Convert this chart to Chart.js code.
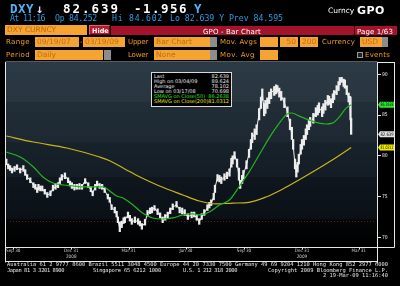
<!DOCTYPE html>
<html>
<head>
<meta charset="utf-8">
<title>DXY Curncy GPO</title>
<script src="https://cdn.jsdelivr.net/npm/chart.js@4.4.1/dist/chart.umd.min.js"></script>
<style>
  html, body { margin: 0; padding: 0; background: #000; }
  #wrap { position: relative; width: 400px; height: 286px; overflow: hidden; background: #000; }
  #chart { position: absolute; left: 0; top: 0; }
  .t { position: absolute; white-space: pre; line-height: 1; }
  .mono { font-family: 'DejaVu Sans Mono', monospace; }
  .lbl { position: absolute; white-space: pre; color: #f39a22; font: 7px 'DejaVu Sans', sans-serif; line-height: 10px; height: 10px; }
  .ob { position: absolute; white-space: pre; background: #f6a431; color: #c06e0c; font: 7.5px 'DejaVu Sans', sans-serif; line-height: 10px; height: 10px; box-sizing: border-box; padding: 0 2px; overflow: hidden; }
  .gs { position: absolute; background: #8c8c8c; height: 10px; }
  .foot { position: absolute; white-space: pre; color: #e4e4e4; font: 5.4px 'DejaVu Sans Mono', monospace; line-height: 1; }
  #legend { position: absolute; left: 151px; top: 72px; width: 79px; height: 32px; padding-top: 1px; box-sizing: content-box; background: #000; border: 1px solid #d8d8d8; font: 5px 'DejaVu Sans', sans-serif; color: #e8e8e8; }
  #legend div { position: relative; height: 5px; line-height: 5px; padding: 0 2px; white-space: pre; }
  #legend span { position: absolute; right: 2px; top: 0; }
</style>
</head>
<body>
<div id="wrap">
  <canvas id="chart" width="400" height="286"></canvas>

  <!-- top quote lines -->
  <div class="t mono" data-w="24" style="left:10px;top:2.5px;font-size:12.5px;font-weight:bold;color:#52b4f4">DXY</div>
  <div class="t mono" style="left:36px;top:2.5px;font-size:12px;font-weight:bold;color:#cfe2ff">↓</div>
  <div class="t mono" data-w="57" style="left:63px;top:2.5px;font-size:12.5px;font-weight:bold;color:#ffffff">82.639</div>
  <div class="t mono" data-w="54" style="left:134px;top:2.5px;font-size:12.5px;font-weight:bold;color:#ffffff">-1.956</div>
  <div class="t mono" style="left:194px;top:2.5px;font-size:12.5px;font-weight:bold;color:#52b4f4">Y</div>
  <div class="t" style="left:328px;top:6px;font:7.5px 'DejaVu Sans',sans-serif;color:#ffffff">Curncy</div>
  <div class="t" data-w="28" style="left:357px;top:3.5px;font:bold 11px 'DejaVu Sans',sans-serif;color:#ffffff">GPO</div>

  <div class="t mono" data-w="35" style="left:10px;top:14px;font-size:8.2px;color:#2f9be0">At 11:16</div>
  <div class="t mono" data-w="42" style="left:55px;top:14px;font-size:8.2px;color:#2f9be0">Op 84.252</div>
  <div class="t mono" data-w="51" style="left:112px;top:14px;font-size:8.2px;color:#2f9be0">Hi 84.602</div>
  <div class="t mono" data-w="113" style="left:170px;top:14px;font-size:8.2px;color:#2f9be0">Lo 82.639 Y Prev 84.595</div>

  <!-- security / title bar -->
  <div class="ob" style="left:5px;top:25px;width:82px;color:#b8680c">DXY CURNCY</div>
  <div style="position:absolute;left:89px;top:25px;width:21px;height:10px;box-sizing:border-box;background:#b8182c;border:1px solid #e4606c;border-right-color:#6a0810;border-bottom-color:#6a0810;"></div>
  <div class="t" style="left:92px;top:26.5px;font:bold 6.5px 'DejaVu Sans',sans-serif;color:#fff">Hide</div>
  <div style="position:absolute;left:111px;top:26px;width:286px;height:9px;background:#a3142b;"></div>
  <div style="position:absolute;left:354px;top:26px;width:1px;height:9px;background:#3a0008;"></div>
  <div class="t" data-w="58" style="left:203px;top:27.5px;font:7px 'DejaVu Sans',sans-serif;color:#fff">GPO - Bar Chart</div>
  <div class="t" data-w="36" style="left:357px;top:27.5px;font:7px 'DejaVu Sans',sans-serif;color:#fff">Page 1/63</div>

  <!-- control row 1 -->
  <div class="lbl" data-w="24" style="left:6px;top:37px">Range</div>
  <div class="ob" style="left:35px;top:37px;width:44px">09/19/07</div>
  <div class="lbl" style="left:80px;top:37px">-</div>
  <div class="ob" style="left:83px;top:37px;width:42px">03/19/09</div>
  <div class="lbl" data-w="20" style="left:128px;top:37px">Upper</div>
  <div class="ob" style="left:154px;top:37px;width:56px">Bar Chart</div>
  <div class="gs" style="left:210px;top:37px;width:7px"></div>
  <div class="lbl" data-w="37" style="left:220px;top:37px">Mov. Avgs</div>
  <div class="ob" style="left:260px;top:37px;width:18px"></div>
  <div class="ob" style="left:280px;top:37px;width:18px;text-align:right">50</div>
  <div class="ob" style="left:300px;top:37px;width:18px;text-align:right">200</div>
  <div class="lbl" data-w="33" style="left:322px;top:37px">Currency</div>
  <div class="ob" style="left:360px;top:37px;width:22px">USD</div>
  <div class="gs" style="left:382px;top:37px;width:6px"></div>

  <!-- control row 2 -->
  <div class="lbl" data-w="24" style="left:6px;top:49.5px">Period</div>
  <div class="ob" style="left:35px;top:49.5px;width:68px">Daily</div>
  <div class="gs" style="left:104px;top:49.5px;width:7px"></div>
  <div class="lbl" data-w="20" style="left:128px;top:49.5px">Lower</div>
  <div class="ob" style="left:154px;top:49.5px;width:56px">None</div>
  <div class="gs" style="left:210px;top:49.5px;width:7px"></div>
  <div class="lbl" data-w="35" style="left:220px;top:49.5px">Mov. Avg</div>
  <div class="ob" style="left:260px;top:49.5px;width:18px"></div>
  <div style="position:absolute;left:357px;top:52px;width:6px;height:6px;box-sizing:border-box;border:1px solid #9a9a9a;background:#202020;"></div>
  <div class="lbl" data-w="25" style="left:365px;top:49.5px">Events</div>

  <!-- statistics box -->
  <div id="legend">
    <div>Last<span>82.639</span></div>
    <div>High on 03/04/09<span>89.624</span></div>
    <div>Average<span>78.102</span></div>
    <div>Low on 03/17/08<span>70.698</span></div>
    <div style="color:#2ee02e">SMAVG on Close(50)<span>86.2638</span></div>
    <div style="color:#e8e800">SMAVG on Close(200)<span>81.0312</span></div>
  </div>

  <!-- footer -->
  <div class="foot" data-w="381" style="left:7px;top:261.5px">Australia 61 2 9777 8600 Brazil 5511 3048 4500 Europe 44 20 7330 7500 Germany 49 69 9204 1210 Hong Kong 852 2977 6000</div>
  <div class="foot" data-w="57" style="left:7px;top:267.5px">Japan 81 3 3201 8900</div>
  <div class="foot" data-w="68" style="left:93px;top:267.5px">Singapore 65 6212 1000</div>
  <div class="foot" data-w="54" style="left:183px;top:267.5px">U.S. 1 212 318 2000</div>
  <div class="foot" data-w="120" style="left:268px;top:267.5px">Copyright 2009 Bloomberg Finance L.P.</div>
  <div class="foot" data-w="65" style="left:323px;top:272.5px">2 19-Mar-09 11:16:40</div>
</div>

<script>
// days counted from 19 Sep 2007
const days = [0,3,6,9,13,17,22,27,30,33,38,43,46,49,51,54,57,61,65,70,
  74,78,82,85,88,93,98,101,104,108,112,116,120,125,130,134,137,141,144,148,
  152,156,161,164,167,172,175,177,180,183,186,188,193,196,199,204,209,212,215,220,
  224,228,231,235,240,244,248,252,256,260,264,270,275,279,283,288,294,298,302,306,
  310,314,319,322,325,329,331,335,338,341,346,350,354,357,359,362,366,369,371,374,
  376,381,385,388,390,394,397,401,404,406,409,411,414,417,420,425,428,430,433,436,
  441,446,450,453,455,458,460,462,464,467,469,472,475,477,480,482,487,491,494,496,
  501,503,506,510,512,515,518,520,524,527,529,532,535,537,540,543,545,546,547];

const lows = [78.9,78.4,78.2,77.9,78.1,78.3,77.9,78.1,77.6,77.1,76.7,76.1,75.9,75.5,75.8,75.7,75.7,75.3,74.9,75.1,
  75.7,75.9,76.1,76.6,77.0,77.2,76.7,76.3,76.0,75.8,75.9,75.9,75.9,76.6,76.1,75.6,75.1,75.8,76.3,76.0,
  75.9,75.5,74.7,74.3,73.4,73.0,72.5,71.8,70.7,71.2,71.7,71.8,72.4,72.0,71.6,71.8,71.6,71.4,71.0,71.5,
  72.6,72.9,73.0,73.3,72.8,72.4,71.8,72.1,72.4,72.9,73.4,73.7,73.0,72.9,72.7,72.2,72.4,72.5,72.1,71.6,
  72.2,72.7,73.3,73.6,73.9,74.6,75.5,76.9,76.8,76.6,77.0,77.2,77.5,78.6,79.0,79.6,78.6,77.0,76.0,76.6,
  77.2,78.4,79.8,80.8,81.6,82.0,82.6,84.4,85.8,86.8,84.9,85.2,85.8,86.4,87.0,87.4,87.6,87.8,87.2,86.8,
  85.9,84.8,83.2,82.0,80.8,78.4,77.4,78.0,79.0,80.2,80.8,81.3,82.0,82.6,83.2,83.6,84.0,84.8,85.0,85.3,
  84.8,85.2,85.6,86.2,86.3,85.9,86.5,86.9,87.5,88.0,88.7,89.0,88.5,88.3,87.5,86.6,86.2,84.4,82.64];

const highs = [79.6,79.0,78.8,78.5,78.7,78.9,78.5,78.8,78.3,77.7,77.3,76.7,76.5,76.1,76.5,76.3,76.3,75.9,75.5,75.7,
  76.4,76.6,76.7,77.3,77.7,77.9,77.3,76.9,76.7,76.5,76.5,76.6,76.5,77.2,76.7,76.2,75.7,76.5,76.9,76.6,
  76.5,76.1,75.3,74.9,74.0,73.7,73.2,72.5,71.9,72.0,72.4,72.5,73.1,72.7,72.3,72.5,72.3,72.0,71.7,72.2,
  73.3,73.6,73.7,73.9,73.5,73.0,72.5,72.8,73.1,73.6,74.1,74.4,73.7,73.6,73.4,72.9,73.1,73.1,72.8,72.3,
  72.9,73.4,74.0,74.3,74.6,75.4,76.4,77.7,77.6,77.4,77.8,78.0,78.4,79.7,80.0,80.5,79.6,78.5,77.0,77.6,
  78.2,79.4,80.8,82.0,82.8,83.3,83.8,85.8,87.2,88.2,86.4,86.8,87.1,87.8,88.2,88.5,88.7,88.6,88.3,87.9,
  87.1,86.0,84.5,83.5,82.0,79.6,78.9,79.2,80.2,81.4,82.0,82.5,83.3,83.8,84.4,84.7,85.2,85.9,86.2,86.5,
  86.0,86.4,86.8,87.4,87.3,87.0,87.6,88.0,88.6,89.1,89.6,89.62,89.4,89.3,88.6,87.7,87.3,87.2,84.6];

const closes = [79.1,78.6,78.4,78.2,78.5,78.6,78.2,78.5,77.8,77.4,77.0,76.4,76.1,75.8,76.2,75.9,76.0,75.5,75.2,75.4,
  76.0,76.2,76.4,77.0,77.4,77.6,77.0,76.6,76.4,76.0,76.2,76.3,76.2,77.0,76.4,75.8,75.4,76.2,76.7,76.3,
  76.2,75.8,75.0,74.6,73.7,73.3,72.8,72.1,71.1,71.5,72.0,72.1,72.8,72.3,71.9,72.1,71.9,71.6,71.3,71.8,
  73.0,73.2,73.4,73.6,73.1,72.6,72.1,72.5,72.8,73.3,73.7,74.0,73.4,73.2,73.0,72.5,72.8,72.7,72.4,71.9,
  72.5,73.0,73.6,74.0,74.2,75.0,76.1,77.3,77.2,77.0,77.4,77.6,77.9,79.2,79.5,80.1,79.2,77.5,76.4,77.1,
  77.7,78.9,80.3,81.5,82.2,82.7,83.2,85.2,86.5,87.6,85.6,86.0,86.5,87.2,87.7,88.1,88.2,88.4,87.8,87.4,
  86.5,85.4,83.8,82.6,81.3,78.9,77.9,78.6,79.5,80.7,81.3,81.9,82.6,83.2,83.8,84.1,84.6,85.4,85.6,85.9,
  85.4,85.8,86.2,86.8,86.9,86.5,87.1,87.4,88.1,88.6,89.2,89.4,89.0,88.8,88.0,87.0,86.7,84.6,82.64];

const ma50Days = [0,22,43,58,74,90,106,122,137,153,164,175,185,201,216,232,248,264,280,295,
  306,322,338,354,370,385,401,417,433,445,453,464,480,496,507,517,528,539,547];
const ma50 = [80.47,79.85,78.63,77.4,76.67,76.42,76.3,76.18,76.18,76.18,75.7,75.07,74.83,73.97,72.99,72.38,72.25,72.38,72.75,72.87,
  72.75,73.11,73.97,74.58,76.3,78.0,80.1,82.2,84.0,85.1,85.25,84.9,84.4,84.0,83.9,84.0,84.75,85.85,86.26];

const ma200Days = [0,43,96,148,164,190,212,243,280,306,333,359,385,412,438,464,491,517,547];
const ma200 = [82.43,81.69,80.96,79.85,79.4,78.3,77.4,76.3,75.2,74.46,74.1,74.2,74.3,74.95,75.9,77.03,78.26,79.49,81.03];

const xTickDays = [11, 103, 194, 285, 377, 469, 559];
const xTickLabels = ['Sep 30', ['Dec 31', '2008'], 'Mar 31', 'Jun 30', 'Sep 30', ['Dec 31', '2009'], 'Mar 31'];
const yTicks = [70, 75, 80, 85, 90];

// right-axis value tags
const tagLabels = ['86.2638', '82.639', '81.0312'];

// fit overlay text to the widths measured on the reference
document.querySelectorAll('[data-w]').forEach(el => {
  const target = +el.dataset.w;
  const n = el.textContent.length;
  const w = el.getBoundingClientRect().width;
  el.style.letterSpacing = ((target - w) / n) + 'px';
});

// banded background of the plot
const bgPlugin = {
  id: 'bg',
  beforeDatasetsDraw(chart) {
    const {ctx, chartArea: a} = chart;
    const g = ctx.createLinearGradient(0, a.top, 0, a.bottom);
    g.addColorStop(0, '#2c3a45');
    g.addColorStop(0.215, '#28353f');
    g.addColorStop(0.217, '#212d37');
    g.addColorStop(0.43, '#1d2832');
    g.addColorStop(0.432, '#18222b');
    g.addColorStop(0.62, '#141d26');
    g.addColorStop(0.622, '#0f161d');
    g.addColorStop(0.85, '#0a1016');
    g.addColorStop(0.852, '#040607');
    g.addColorStop(1, '#000000');
    ctx.save();
    ctx.fillStyle = g;
    ctx.fillRect(a.left, a.top, a.right - a.left, a.bottom - a.top);
    const yd = Math.round(a.top + (a.bottom - a.top) * 0.86) + 0.5;
    ctx.strokeStyle = 'rgba(120,36,36,0.75)';
    ctx.setLineDash([1, 2]);
    ctx.beginPath();
    ctx.moveTo(a.left + 4, yd);
    ctx.lineTo(a.right - 2, yd);
    ctx.stroke();
    ctx.restore();
  }
};

function drawTag(ctx, x0, x1, y, color, text) {
  const h = 6;
  ctx.fillStyle = color;
  ctx.beginPath();
  ctx.moveTo(x0, y);
  ctx.lineTo(x0 + 2, y - h / 2);
  ctx.lineTo(x1, y - h / 2);
  ctx.lineTo(x1, y + h / 2);
  ctx.lineTo(x0 + 2, y + h / 2);
  ctx.closePath();
  ctx.fill();
  ctx.fillStyle = '#000';
  ctx.font = '4.6px "DejaVu Sans Condensed", sans-serif';
  ctx.textAlign = 'center';
  ctx.textBaseline = 'middle';
  ctx.fillText(text, (x0 + x1) / 2 + 1, y + 0.5, x1 - x0 - 3);
}

// frame lines, x tick marks and value tags
const framePlugin = {
  id: 'frame',
  afterDraw(chart) {
    const {ctx, chartArea: a, scales} = chart;
    const L = a.left - 0.5, R = a.right + 0.5, B = a.bottom + 0.5;
    const axisR = scales.y.right - 0.5;
    const stripB = scales.x.bottom + 0.5;
    ctx.save();
    ctx.strokeStyle = '#5a5a5a';
    ctx.beginPath();
    ctx.moveTo(L, a.top - 0.5); ctx.lineTo(R, a.top - 0.5);
    ctx.stroke();
    ctx.strokeStyle = '#e6e6e6';
    ctx.lineWidth = 1;
    ctx.beginPath();
    ctx.moveTo(L, a.top); ctx.lineTo(L, stripB + 1);
    ctx.moveTo(L, B); ctx.lineTo(R, B);
    ctx.moveTo(L, stripB); ctx.lineTo(R, stripB);
    ctx.moveTo(R, a.top); ctx.lineTo(R, stripB + 2);
    ctx.moveTo(R, a.top + 0.5); ctx.lineTo(axisR, a.top + 0.5);
    ctx.moveTo(axisR, a.top); ctx.lineTo(axisR, B);
    ctx.moveTo(R, B); ctx.lineTo(axisR, B);
    xTickDays.forEach(d => {
      const x = Math.round(scales.x.getPixelForValue(d)) + 0.5;
      ctx.moveTo(x, B); ctx.lineTo(x, B + 2);
    });
    ctx.stroke();

    const y = scales.y;
    const x0 = a.right + 1, x1 = axisR - 0.5;
    drawTag(ctx, x0, x1, y.getPixelForValue(ma50[ma50.length - 1]), '#2ee82e', tagLabels[0]);
    drawTag(ctx, x0, x1, y.getPixelForValue(closes[closes.length - 1]), '#e2e2e2', tagLabels[1]);
    drawTag(ctx, x0, x1, y.getPixelForValue(ma200[ma200.length - 1]), '#f2f000', tagLabels[2]);
    ctx.restore();
  }
};

new Chart(document.getElementById('chart'), {
  type: 'bar',
  data: {
    datasets: [
      {
        type: 'line',
        label: 'SMAVG on Close(50)',
        data: ma50Days.map((d, i) => ({x: d, y: ma50[i]})),
        borderColor: '#22b422',
        borderWidth: 1.2,
        pointRadius: 0,
        cubicInterpolationMode: 'monotone',
        order: 1
      },
      {
        type: 'line',
        label: 'SMAVG on Close(200)',
        data: ma200Days.map((d, i) => ({x: d, y: ma200[i]})),
        borderColor: '#c8b41c',
        borderWidth: 1.2,
        pointRadius: 0,
        cubicInterpolationMode: 'monotone',
        order: 1
      },
      {
        type: 'line',
        label: 'Close',
        data: days.map((d, i) => ({x: d, y: closes[i]})),
        borderColor: '#f0f0f0',
        borderWidth: 1,
        pointRadius: 0,
        order: 2
      },
      {
        type: 'bar',
        label: 'High / Low',
        data: days.map((d, i) => ({x: d, y: [lows[i], highs[i]]})),
        backgroundColor: '#ececec',
        barThickness: 1.6,
        order: 3
      }
    ]
  },
  options: {
    responsive: false,
    animation: false,
    devicePixelRatio: 1,
    layout: { padding: { left: 6, top: 62, right: 5, bottom: 25 } },
    plugins: {
      legend: { display: false },
      tooltip: { enabled: false }
    },
    scales: {
      x: {
        type: 'linear',
        min: -0.5,
        max: 588,
        offset: false,
        grid: { display: false, drawTicks: false },
        border: { display: false },
        afterFit(s) { s.height = 14; },
        afterBuildTicks(s) { s.ticks = xTickDays.map(v => ({value: v})); },
        ticks: {
          autoSkip: false,
          maxRotation: 0,
          padding: 1,
          color: '#d0d0d0',
          font: { family: 'DejaVu Sans Condensed', size: 4.6, lineHeight: 1.3 },
          callback: (v, i) => xTickLabels[i]
        }
      },
      y: {
        position: 'right',
        min: 68.82,
        max: 91.5,
        beginAtZero: false,
        grid: { drawOnChartArea: false, drawTicks: true, tickLength: 4, color: '#e0e0e0' },
        border: { display: false },
        afterFit(s) { s.width = 18; },
        afterBuildTicks(s) { s.ticks = yTicks.map(v => ({value: v})); },
        ticks: {
          padding: 1,
          color: '#ededed',
          font: { family: 'DejaVu Sans Condensed', size: 5 },
          callback: v => String(v)
        }
      }
    }
  },
  plugins: [bgPlugin, framePlugin]
});
</script>
</body>
</html>
